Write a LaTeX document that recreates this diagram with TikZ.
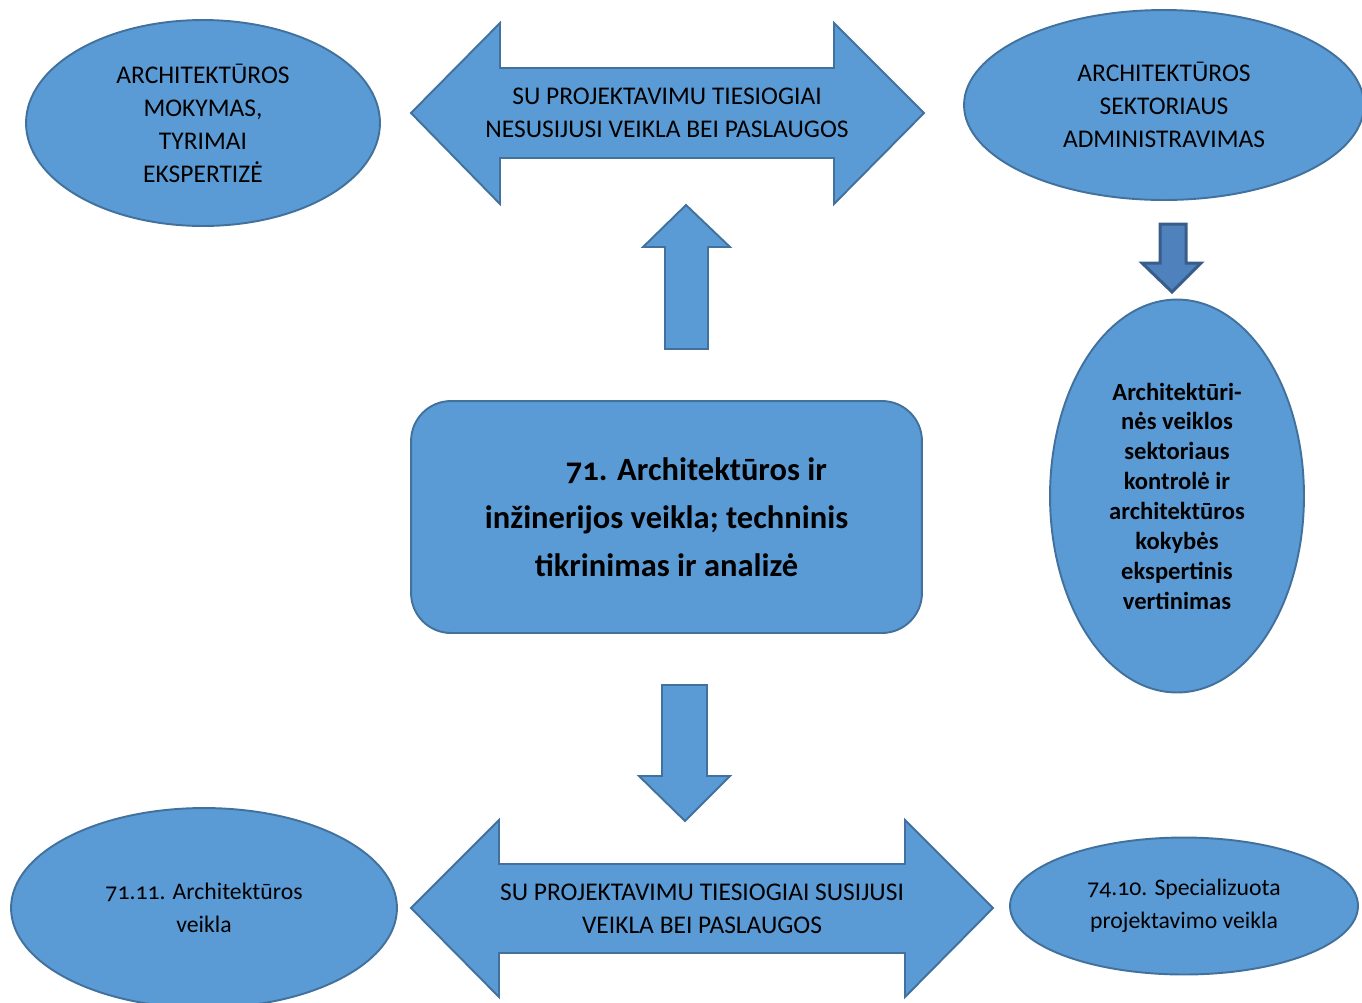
\documentclass[tikz,border=0pt]{standalone}
\usepackage{fontspec}
\setmainfont{Carlito}[Numbers=OldStyle]
\usetikzlibrary{shapes.geometric}
\definecolor{boxfill}{RGB}{91,155,213}
\definecolor{boxline}{RGB}{65,113,156}
\definecolor{darkfill}{RGB}{79,129,189}
\definecolor{darkline}{RGB}{56,93,138}
\tikzset{oval/.style={ellipse, draw=boxline, fill=boxfill, line width=1.1pt,
inner sep=0pt, align=center, font=\fontsize{13.5}{18.6}\selectfont}}
\tikzset{capsoval/.style={oval, font=\fontsize{14.5}{18.8}\selectfont}}
\tikzset{blockarrow/.style={draw=boxline, fill=boxfill, line width=1.1pt, line join=miter}}
\tikzset{darkarrow/.style={draw=darkline, fill=darkfill, line width=1.7pt, line join=miter}}
\tikzset{arrowtext/.style={align=center, font=\fontsize{14.5}{19}\selectfont}}

\begin{document}
\begin{tikzpicture}[x=0.02cm, y=-0.02cm]
\useasboundingbox (0,0) rectangle (1362,1002);

% block arrows
\draw [blockarrow] (411,113) -- (500,23) -- (500,68) -- (834,68) -- (834,23) -- (924,113)
  -- (834,204) -- (834,158) -- (500,158) -- (500,204) -- cycle;
\draw [blockarrow] (686,205) -- (730,247) -- (708,247) -- (708,349) -- (665,349) -- (665,247)
  -- (643,247) -- cycle;
\draw [blockarrow] (685,821) -- (730,776) -- (707,776) -- (707,685) -- (662,685) -- (662,776)
  -- (639,776) -- cycle;
\draw [blockarrow] (411,908) -- (499,820) -- (499,864) -- (905,864) -- (905,820) -- (993,908)
  -- (905,997) -- (905,953) -- (499,953) -- (499,997) -- cycle;
\draw [darkarrow] (1172,292) -- (1201,263) -- (1186,263) -- (1186,224) -- (1160,224) -- (1160,263)
  -- (1142,263) -- cycle;

\node [arrowtext] (nonrel) at (667,113) {SU PROJEKTAVIMU TIESIOGIAI\\NESUSIJUSI VEIKLA BEI PASLAUGOS};
\node [arrowtext] (rel) at (702,909) {SU PROJEKTAVIMU TIESIOGIAI SUSIJUSI\\VEIKLA BEI PASLAUGOS};

\node [capsoval,
minimum width = 7.08cm,
minimum height = 4.12cm] (study) at (203,123) {ARCHITEKTŪROS\\MOKYMAS,\\TYRIMAI\\EKSPERTIZĖ};

\node [capsoval,
minimum width = 8cm,
minimum height = 3.8cm] (admin) at (1164,105) {ARCHITEKTŪROS\\SEKTORIAUS\\ADMINISTRAVIMAS};

\node [oval,
minimum width = 5.08cm,
minimum height = 7.86cm,
font = \fontsize{14}{17}\selectfont\bfseries] (control) at (1177,496)
{Architektūri-\\nės veiklos\\sektoriaus\\kontrolė ir\\architektūros\\kokybės\\ekspertinis\\vertinimas};

\node [oval,
minimum width = 7.72cm,
minimum height = 4cm] (arch) at (204,908) {71.11. Architektūros\\veikla};

\node [oval,
minimum width = 6.96cm,
minimum height = 2.74cm] (design) at (1184,906) {74.10. Specializuota\\projektavimo veikla};

\node[rectangle,
minimum width = 10.22cm,
minimum height = 4.64cm,
rounded corners = 0.8cm,
draw = boxline, fill = boxfill, line width = 1.1pt,
align = center,
font = \fontsize{18.5}{27.3}\selectfont\bfseries] (nace) at (666.5,517)
{\hspace*{34pt}71. Architektūros ir\\inžinerijos veikla; techninis\\tikrinimas ir analizė};

\end{tikzpicture}
\end{document}
